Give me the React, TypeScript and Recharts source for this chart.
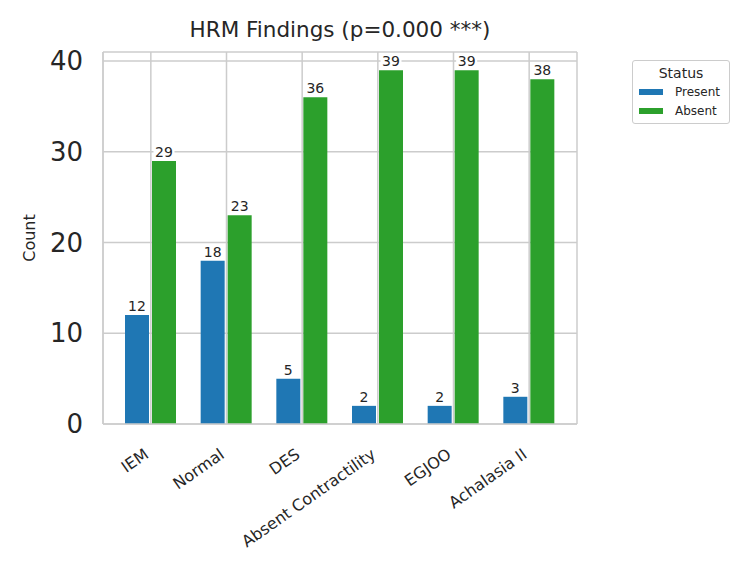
import React from 'react';
import { BarChart, Bar, XAxis, YAxis, CartesianGrid, LabelList } from 'recharts';

const categories = ['IEM', 'Normal', 'DES', 'Absent Contractility', 'EGJOO', 'Achalasia II'];
const present = [12, 18, 5, 2, 2, 3];
const absent = [29, 23, 36, 39, 39, 38];
const yTicks = [0, 10, 20, 30, 40];

const seriesList = [
  { key: 'present', name: 'Present', color: '#1f77b4' },
  { key: 'absent', name: 'Absent', color: '#2ca02c' },
];

const data = categories.map((c, i) => ({ name: c, present: present[i], absent: absent[i] }));

const FONT = 'DejaVu Sans, sans-serif';
const TEXT = '#262626';
const GRID = '#cccccc';

// rotated category labels, right end pinned under the tick
const XTick = (props: any) => {
  const { x, y, payload } = props;
  const px = x - 8;
  const py = y + 15;
  return (
    <text
      x={px}
      y={py}
      transform={`rotate(-35, ${px}, ${py})`}
      textAnchor="end"
      dy="0.75em"
      fontSize={16}
      fontFamily={FONT}
      fill={TEXT}
    >
      {payload.value}
    </text>
  );
};

// value label with a white box behind, like matplotlib bbox
const ValueLabel = (props: any) => {
  const { x, y, width, value } = props;
  const cx = x + width / 2;
  const w = String(value).length * 9 + 3;
  return (
    <g>
      <rect x={cx - w / 2} y={y - 16} width={w} height={14} fill="white" />
      <text x={cx} y={y - 4} textAnchor="middle" fontSize={14} fontFamily={FONT} fill={TEXT}>
        {value}
      </text>
    </g>
  );
};

const LegendBox = () => (
  <div
    style={{
      position: 'absolute',
      left: 632,
      top: 60,
      width: 98,
      height: 64,
      border: '1px solid #cccccc',
      borderRadius: 3,
      background: 'white',
      fontFamily: FONT,
      color: TEXT,
      boxSizing: 'border-box',
    }}
  >
    <div style={{ textAlign: 'center', fontSize: 14, marginTop: 3, lineHeight: '18px' }}>Status</div>
    {seriesList.map((s) => (
      <div key={s.key} style={{ display: 'flex', alignItems: 'center', height: 19, fontSize: 12 }}>
        <span style={{ display: 'inline-block', width: 24, height: 6, background: s.color, marginLeft: 6, marginRight: 12 }} />
        <span>{s.name}</span>
      </div>
    ))}
  </div>
);

const App = () => {
  return (
    <div style={{ position: 'absolute', left: 0, top: 0, width: 750, height: 568, background: 'white' }}>
      <div
        style={{
          position: 'absolute',
          left: 103,
          width: 474,
          top: 19,
          textAlign: 'center',
          fontFamily: FONT,
          fontSize: 21.5,
          lineHeight: '21.5px',
          color: TEXT,
        }}
      >
        HRM Findings (p=0.000 ***)
      </div>
      <BarChart
        width={750}
        height={568}
        data={data}
        margin={{ top: 52, right: 173, left: 0, bottom: 0 }}
        barGap={3}
        barSize={24}
      >
        <CartesianGrid stroke={GRID} strokeWidth={1.5} />
        <XAxis
          dataKey="name"
          height={144}
          padding={{ left: 10, right: 10 }}
          tick={<XTick />}
          tickLine={false}
          axisLine={{ stroke: GRID, strokeWidth: 1.5 }}
          interval={0}
        />
        <XAxis xAxisId="top" dataKey="name" orientation="top" height={0} tick={false} tickLine={false} axisLine={{ stroke: GRID, strokeWidth: 1.5 }} />
        <YAxis
          width={103}
          domain={[0, 41]}
          ticks={yTicks}
          tickLine={false}
          tickSize={0}
          tickMargin={20}
          axisLine={{ stroke: GRID, strokeWidth: 1.5 }}
          tick={{ fontSize: 26, fontFamily: FONT, fill: TEXT }}
          label={{ value: 'Count', angle: -90, position: 'insideLeft', offset: 29, style: { textAnchor: 'middle', fontSize: 16, fontFamily: FONT, fill: TEXT } }}
        />
        <YAxis yAxisId="right" orientation="right" width={0} domain={[0, 41]} tick={false} tickLine={false} axisLine={{ stroke: GRID, strokeWidth: 1.5 }} />
        {seriesList.map((s) => (
          <Bar key={s.key} dataKey={s.key} name={s.name} fill={s.color} isAnimationActive={false}>
            <LabelList dataKey={s.key} content={<ValueLabel />} />
          </Bar>
        ))}
      </BarChart>
      <LegendBox />
    </div>
  );
};

export default App;
